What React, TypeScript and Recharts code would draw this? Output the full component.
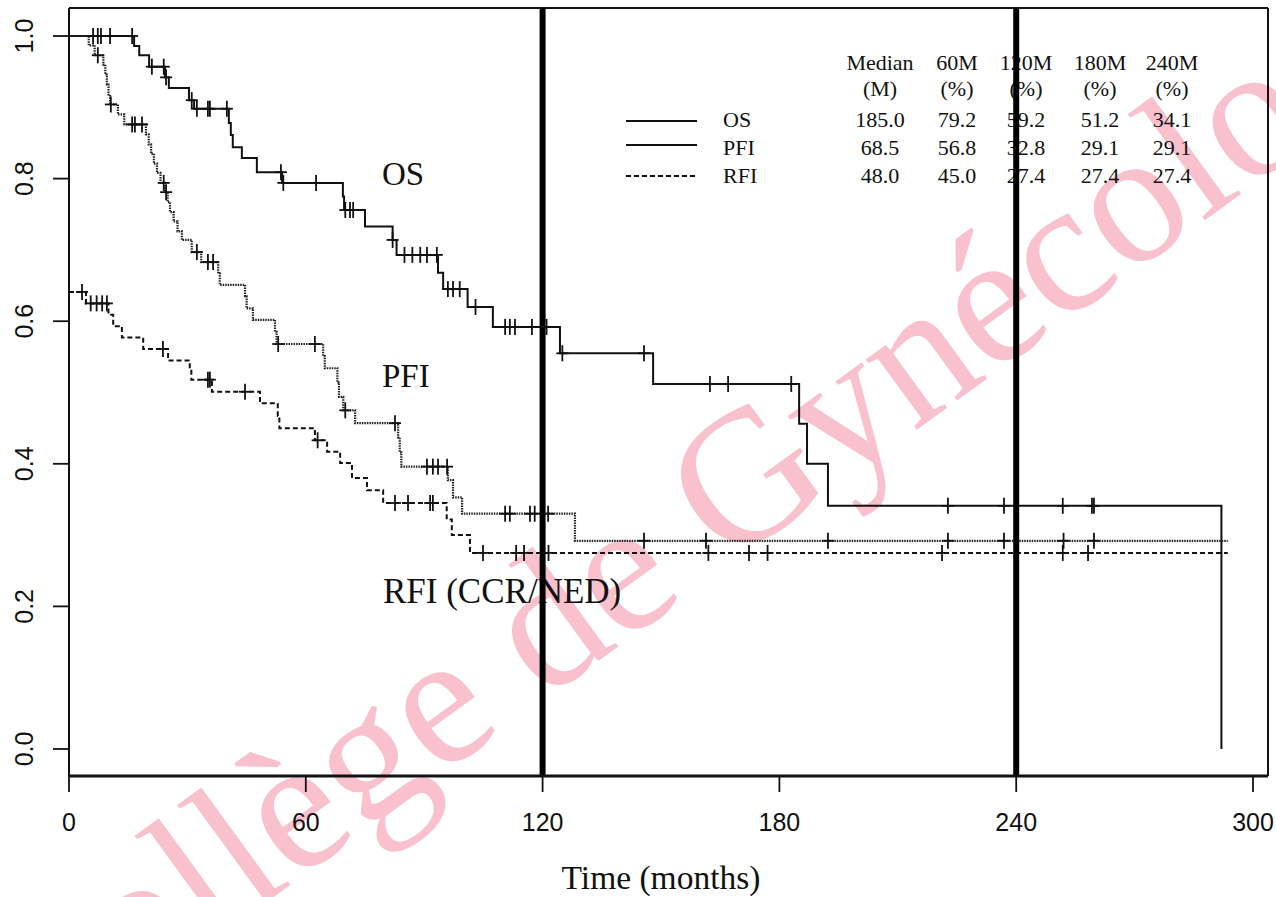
import React from 'react';
import { ComposedChart, Line, Scatter, XAxis, YAxis, ReferenceLine, Customized } from 'recharts';

// ---- data ----
const osTimes = [0, 16.5, 17.8, 20.3, 24.3, 25.3, 30.4, 31.7, 40.5, 41.0, 41.5, 43.8, 47.6, 54.0, 69.4, 69.7, 75.0, 82.0, 83.0, 93.5, 94.8, 101.0, 107.4, 124.4, 148.0, 185.0, 187.0, 192.3, 292.0];
const osSurv = [1.0, 0.986, 0.973, 0.957, 0.942, 0.927, 0.91, 0.898, 0.878, 0.861, 0.844, 0.829, 0.809, 0.794, 0.775, 0.756, 0.733, 0.714, 0.693, 0.668, 0.645, 0.62, 0.592, 0.555, 0.512, 0.456, 0.4, 0.341, 0.0];
const osCensor = [6.1, 7.3, 8.1, 10.4, 16.0, 21.0, 24.0, 24.6, 31.1, 32.4, 35.2, 35.7, 40.0, 53.7, 54.3, 62.6, 70.0, 71.2, 72.0, 82.0, 85.0, 87.0, 89.0, 90.7, 93.2, 96.0, 97.3, 99.0, 103.0, 110.5, 111.7, 113.0, 117.3, 121.0, 125.0, 145.7, 162.4, 167.0, 183.0, 222.7, 236.9, 251.8, 259.2, 259.7];

const pfiTimes = [0, 5.0, 6.5, 8.7, 9.2, 9.6, 10.0, 10.4, 12.4, 14.0, 19.5, 20.2, 20.8, 21.5, 22.3, 23.2, 24.3, 25.0, 25.6, 26.5, 27.5, 28.6, 31.1, 33.5, 37.8, 38.2, 44.6, 45.0, 46.6, 52.2, 52.6, 64.4, 64.8, 68.0, 68.4, 69.5, 72.5, 83.4, 83.8, 84.2, 96.0, 97.3, 99.6, 128.2, 293.6];
const pfiSurv = [1.0, 0.987, 0.973, 0.96, 0.946, 0.932, 0.918, 0.904, 0.89, 0.876, 0.862, 0.848, 0.835, 0.821, 0.808, 0.794, 0.781, 0.767, 0.753, 0.74, 0.726, 0.714, 0.697, 0.683, 0.667, 0.651, 0.635, 0.618, 0.602, 0.585, 0.568, 0.551, 0.534, 0.514, 0.494, 0.475, 0.457, 0.437, 0.416, 0.396, 0.377, 0.353, 0.33, 0.292, 0.292];
const pfiCensor = [7.3, 10.6, 16.0, 16.7, 18.5, 24.0, 24.6, 32.4, 35.2, 36.5, 53.0, 62.3, 70.0, 82.6, 90.7, 92.2, 93.5, 95.8, 110.5, 111.7, 116.8, 118.0, 121.4, 145.7, 161.4, 192.3, 222.7, 236.9, 252.0, 259.7];

const rfiTimes = [0, 4.3, 10.0, 11.2, 13.4, 18.8, 25.1, 30.6, 31.0, 36.2, 48.4, 52.9, 53.3, 62.3, 65.4, 68.7, 71.7, 75.5, 79.6, 95.7, 97.0, 101.6, 293.6];
const rfiSurv = [0.641, 0.625, 0.609, 0.593, 0.577, 0.561, 0.545, 0.534, 0.518, 0.501, 0.485, 0.467, 0.45, 0.433, 0.417, 0.401, 0.38, 0.363, 0.345, 0.322, 0.3, 0.275, 0.275];
const rfiCensor = [3.3, 5.5, 7.0, 8.4, 9.6, 23.8, 35.2, 35.7, 44.6, 63.0, 82.6, 85.9, 91.5, 92.2, 104.9, 113.3, 115.3, 121.5, 162.0, 172.3, 177.0, 221.2, 251.8, 258.2];

const xTicks = [0, 60, 120, 180, 240, 300];
const yTicks = [0, 0.2, 0.4, 0.6, 0.8, 1.0];
const milestoneTimes = [120, 240];

const tableHeads = ['Median', '60M', '120M', '180M', '240M'];
const tableUnits = ['(M)', '(%)', '(%)', '(%)', '(%)'];
const rowNames = ['OS', 'PFI', 'RFI'];
const osRow = ['185.0', '79.2', '59.2', '51.2', '34.1'];
const pfiRow = ['68.5', '56.8', '32.8', '29.1', '29.1'];
const rfiRow = ['48.0', '45.0', '27.4', '27.4', '27.4'];

// ---- helpers ----
const X_MAX = 303.8;
const Y_MIN = -0.0379;
const Y_MAX = 1.0393;

const toSteps = (times: number[], surv: number[]) => times.map((t, i) => ({ t, s: surv[i] }));
const survAt = (times: number[], surv: number[], t: number) => {
  let v = surv[0];
  for (let i = 0; i < times.length; i++) if (times[i] <= t) v = surv[i];
  return v;
};
const toMarks = (times: number[], surv: number[], cens: number[]) => cens.map((t) => ({ t, s: survAt(times, surv, t) }));

const osData = toSteps(osTimes, osSurv);
const pfiData = toSteps(pfiTimes, pfiSurv);
const rfiData = toSteps(rfiTimes, rfiSurv);
const osMarks = toMarks(osTimes, osSurv, osCensor);
const pfiMarks = toMarks(pfiTimes, pfiSurv, pfiCensor);
const rfiMarks = toMarks(rfiTimes, rfiSurv, rfiCensor);

const SERIF = '"Liberation Serif", "Times New Roman", serif';
const SANS = '"Liberation Sans", Arial, sans-serif';
const INK = '#111';

const Plus = (props: any) => {
  const { cx, cy } = props;
  if (cx == null || cy == null) return null;
  return (
    <g stroke={INK} strokeWidth={1.8}>
      <line x1={cx} y1={cy - 8} x2={cx} y2={cy + 8} />
      <line x1={cx - 6} y1={cy} x2={cx + 6} y2={cy} />
    </g>
  );
};

const XTick = (props: any) => {
  const { x, payload } = props;
  return (
    <text x={x} y={831} textAnchor="middle" fontFamily={SANS} fontSize={25} fill={INK}>
      {payload.value}
    </text>
  );
};

const YTick = (props: any) => {
  const { y, payload } = props;
  return (
    <text x={33} y={y} textAnchor="middle" fontFamily={SANS} fontSize={25} fill={INK} transform={`rotate(-90 33 ${y})`}>
      {Number(payload.value).toFixed(1)}
    </text>
  );
};

const colX = [880, 957, 1026, 1100, 1172];
const rowY = [127, 155, 183];
const rows = [osRow, pfiRow, rfiRow];

const Annotations = () => (
  <g>
    <text x={382} y={185} fontFamily={SERIF} fontSize={33} fill={INK}>OS</text>
    <text x={382} y={387} fontFamily={SERIF} fontSize={33} fill={INK}>PFI</text>
    <text x={383} y={603} fontFamily={SERIF} fontSize={35} fill={INK}>RFI (CCR/NED)</text>
    <text x={661} y={889} textAnchor="middle" fontFamily={SERIF} fontSize={33.5} fill={INK}>Time (months)</text>
    {tableHeads.map((h, i) => (
      <text key={'h' + i} x={colX[i]} y={70} textAnchor="middle" fontFamily={SERIF} fontSize={22} fill={INK}>{h}</text>
    ))}
    {tableUnits.map((h, i) => (
      <text key={'u' + i} x={colX[i]} y={96} textAnchor="middle" fontFamily={SERIF} fontSize={22} fill={INK}>{h}</text>
    ))}
    {rowNames.map((n, r) => (
      <text key={'n' + r} x={723} y={rowY[r]} fontFamily={SERIF} fontSize={22} fill={INK}>{n}</text>
    ))}
    {rows.map((row, r) =>
      row.map((v, i) => (
        <text key={'c' + r + i} x={colX[i]} y={rowY[r]} textAnchor="middle" fontFamily={SERIF} fontSize={22} fill={INK}>{v}</text>
      ))
    )}
    <line x1={626} y1={121} x2={697} y2={121} stroke={INK} strokeWidth={1.8} />
    <line x1={626} y1={145} x2={697} y2={145} stroke={INK} strokeWidth={1.8} />
    <line x1={626} y1={176} x2={697} y2={176} stroke={INK} strokeWidth={1.8} strokeDasharray="5 3" />
  </g>
);

const Watermark = () => (
  <text
    x={30}
    y={1074}
    fontFamily={SERIF}
    fontSize={189}
    fill="#f7a8bb"
    fillOpacity={0.72}
    transform="rotate(-36 30 1074)"
  >
    Collège de Gynécologie
  </text>
);

export default function App() {
  return (
    <div style={{ position: 'absolute', left: 0, top: 0, width: 1276, height: 897, background: '#fff', overflow: 'hidden' }}>
      <ComposedChart width={1276} height={897} margin={{ top: 8, right: 8, bottom: 0, left: 0 }}>
        <XAxis
          dataKey="t"
          type="number"
          domain={[0, X_MAX]}
          ticks={xTicks}
          allowDataOverflow
          height={121}
          tickSize={16}
          tick={<XTick />}
          axisLine={{ stroke: INK, strokeWidth: 3 }}
          tickLine={{ stroke: INK, strokeWidth: 1.8 }}
        />
        <YAxis
          type="number"
          domain={[Y_MIN, Y_MAX]}
          ticks={yTicks}
          allowDataOverflow
          width={69}
          tickSize={16}
          tick={<YTick />}
          axisLine={{ stroke: INK, strokeWidth: 2 }}
          tickLine={{ stroke: INK, strokeWidth: 1.8 }}
        />
        <Customized component={Watermark} />
        <ReferenceLine y={Y_MAX} stroke={INK} strokeWidth={2} />
        <ReferenceLine x={X_MAX} stroke={INK} strokeWidth={2} />
        <Line data={osData} dataKey="s" type="stepAfter" stroke={INK} strokeWidth={2} dot={false} isAnimationActive={false} />
        <Line data={pfiData} dataKey="s" type="stepAfter" stroke="#222" strokeWidth={2.2} strokeDasharray="1.5 1" dot={false} isAnimationActive={false} />
        <Line data={rfiData} dataKey="s" type="stepAfter" stroke={INK} strokeWidth={2} strokeDasharray="5 3" dot={false} isAnimationActive={false} />
        <Scatter data={osMarks} dataKey="s" shape={<Plus />} isAnimationActive={false} />
        <Scatter data={pfiMarks} dataKey="s" shape={<Plus />} isAnimationActive={false} />
        <Scatter data={rfiMarks} dataKey="s" shape={<Plus />} isAnimationActive={false} />
        <Customized component={Annotations} />
        {milestoneTimes.map((m) => (
          <ReferenceLine key={m} x={m} stroke="#000" strokeWidth={6} />
        ))}
      </ComposedChart>
    </div>
  );
}
